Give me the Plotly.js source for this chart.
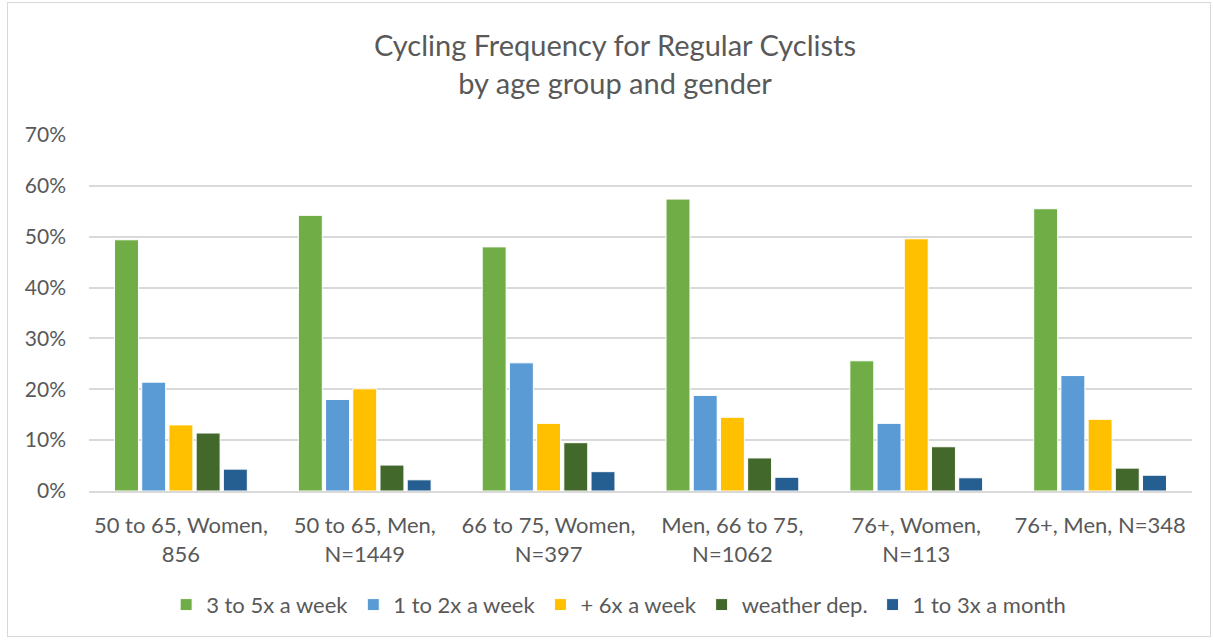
<!DOCTYPE html>
<html>
<head>
<meta charset="utf-8">
<script src="https://cdn.plot.ly/plotly-3.0.1.min.js"></script>
<style>
  html, body { margin: 0; padding: 0; background: #fff; }
  #wrap { position: relative; width: 1213px; height: 640px; }
  #chart { width: 1213px; height: 640px; }
  #frame { position: absolute; left: 7px; top: 2px; width: 1202px; height: 633px;
           border: 1px solid #d9d9d9; pointer-events: none; }
</style>
</head>
<body>
<div id="wrap">
  <div id="chart"></div>
  <div id="frame"></div>
</div>
<script>
const categories = [
  "50 to 65, Women,<br>856",
  "50 to 65, Men,<br>N=1449",
  "66 to 75, Women,<br>N=397",
  "Men, 66 to 75,<br>N=1062",
  "76+, Women,<br>N=113",
  "76+, Men, N=348"
];
const seriesNames = ["3 to 5x a week", "1 to 2x a week", "+ 6x a week", "weather dep.", "1 to 3x a month"];
const threeToFive   = [49.4, 54.2, 48.0, 57.4, 25.6, 55.5];
const oneToTwo      = [21.4, 18.0, 25.2, 18.8, 13.3, 22.7];
const sixPlus       = [13.0, 20.1, 13.3, 14.5, 49.6, 14.1];
const weatherDep    = [11.4, 5.1, 9.5, 6.5, 8.7, 4.5];
const oneToThreeMon = [4.3, 2.2, 3.8, 2.7, 2.6, 3.1];
const yTicks = [0, 10, 20, 30, 40, 50, 60, 70];

const seriesValues = [threeToFive, oneToTwo, sixPlus, weatherDep, oneToThreeMon];
const colors = ["#70AD47", "#5B9BD5", "#FFC000", "#43682B", "#255E91"];

const FONT = "Lato, 'Noto Sans', sans-serif";
const TXT = "#595959";

const traces = seriesValues.map((vals, i) => ({
  type: "bar",
  name: seriesNames[i],
  x: categories,
  y: vals,
  marker: { color: colors[i], line: { color: "#ffffff", width: 1 } },
  hoverinfo: "x+y+name"
}));

const layout = {
  width: 1213,
  height: 640,
  paper_bgcolor: "#ffffff",
  plot_bgcolor: "#ffffff",
  margin: { l: 89, r: 21, t: 135, b: 149 },
  barmode: "group",
  bargap: 0.26,
  bargroupgap: 0.12,
  font: { family: FONT, color: TXT, size: 21 },
  title: {
    text: "Cycling Frequency for Regular Cyclists<br>by age group and gender",
    font: { family: FONT, size: 29, color: TXT },
    xref: "container", x: 0.507, xanchor: "center",
    yref: "container", y: 0.912, yanchor: "top"
  },
  xaxis: {
    type: "category",
    tickfont: { family: FONT, size: 22, color: TXT },
    showgrid: false,
    showline: true, linecolor: "#d9d9d9", linewidth: 1.5,
    ticks: "", ticklabelstandoff: 14,
    zeroline: false
  },
  yaxis: {
    range: [0, 70],
    tickvals: yTicks,
    ticktext: yTicks.map(v => v + "%"),
    tickfont: { family: FONT, size: 21, color: TXT },
    showgrid: true, gridcolor: "#d9d9d9", gridwidth: 1.5,
    zeroline: false,
    showline: false,
    ticks: "", ticklabelstandoff: 22
  },
  legend: {
    orientation: "h",
    xref: "container", x: 0.51, xanchor: "center",
    yref: "container", y: 0.055, yanchor: "middle",
    font: { family: FONT, size: 22, color: TXT },
    traceorder: "normal"
  },
  showlegend: true
};

Plotly.newPlot("chart", traces, layout, { displayModeBar: false, responsive: false });
</script>
</body>
</html>
